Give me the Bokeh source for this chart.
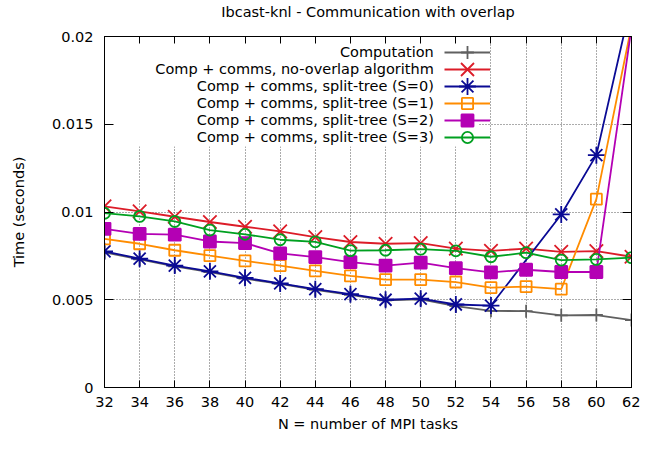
from bokeh.plotting import figure
from bokeh.models import (Range1d, FixedTicker, LinearAxis, Legend, LegendItem, Label,
                          BoxAnnotation, CustomJSTickFormatter)
from bokeh.embed import file_html
from bokeh.resources import INLINE

# ---------------- data ----------------
N = [32, 34, 36, 38, 40, 42, 44, 46, 48, 50, 52, 54, 56, 58, 60, 62]

computation = [0.00770, 0.00730, 0.00690, 0.00657, 0.00620, 0.00590, 0.00557, 0.00528,
               0.00496, 0.00502, 0.00464, 0.00437, 0.00435, 0.00411, 0.00413, 0.00384]
no_overlap = [0.01032, 0.01004, 0.00973, 0.00943, 0.00916, 0.00890, 0.00857, 0.00829,
              0.00819, 0.00823, 0.00791, 0.00779, 0.00791, 0.00773, 0.00777, 0.00745]
split_s0 = [0.00776, 0.00734, 0.00695, 0.00662, 0.00625, 0.00593, 0.00560, 0.00532,
            0.00500, 0.00506, 0.00473, 0.00467, None, 0.00986, 0.01324, 0.02200]
split_s1 = [0.00847, 0.00819, 0.00782, 0.00751, 0.00721, 0.00695, 0.00665, 0.00636,
            0.00615, 0.00615, 0.00601, 0.00569, 0.00575, 0.00560, 0.01073, 0.02060]
split_s2 = [0.00904, 0.00875, 0.00871, 0.00832, 0.00823, 0.00764, 0.00743, 0.00714,
            0.00695, 0.00712, 0.00680, 0.00656, 0.00671, 0.00658, 0.00658, 0.02050]
split_s3 = [0.00993, 0.00975, 0.00946, 0.00897, 0.00873, 0.00842, 0.00830, 0.00780,
            0.00782, 0.00788, 0.00779, 0.00745, 0.00768, 0.00726, 0.00730, 0.00740]

series_names = [
    "Computation",
    "Comp + comms, no-overlap algorithm",
    "Comp + comms, split-tree (S=0)",
    "Comp + comms, split-tree (S=1)",
    "Comp + comms, split-tree (S=2)",
    "Comp + comms, split-tree (S=3)",
]
series_values = [computation, no_overlap, split_s0, split_s1, split_s2, split_s3]

x_ticks = list(range(32, 63, 2))
y_ticks = [0, 0.005, 0.01, 0.015, 0.02]
y_tick_labels = ["0", "0.005", "0.01", "0.015", "0.02"]

title_text = "Ibcast-knl - Communication with overlap"
x_label = "N = number of MPI tasks"
y_label = "Time (seconds)"

# ---------------- styles ----------------
FONT = "DejaVu Sans"
FS = "14.5px"
styles = [
    dict(color="#606060", marker="cross", size=13, filled=False),
    dict(color="#dc1c28", marker="x", size=19, filled=False),
    dict(color="#0a0a94", marker="asterisk", size=17, filled=False),
    dict(color="#ff8c00", marker="square", size=11, filled=False),
    dict(color="#b400b4", marker="square", size=12, filled=True),
    dict(color="#00a020", marker="circle", size=11, filled=False),
]

W, H = 640, 434
BL, BR, BT, BB = 104, 9, 36, 45
FRAME_W = W - BL - BR
FRAME_H = H - BT - BB

p = figure(width=W, height=H, output_backend="svg", toolbar_location=None,
           x_range=Range1d(32, 62), y_range=Range1d(0, 0.02),
           min_border_left=BL, min_border_right=BR, min_border_top=BT, min_border_bottom=BB)
p.background_fill_color = "white"
p.border_fill_color = "white"
p.outline_line_color = "black"
p.outline_line_width = 1
p.title.visible = False

# axes
for ax in [p.xaxis[0], p.yaxis[0]]:
    ax.major_tick_out = 0
    ax.minor_tick_line_color = None
    ax.axis_line_color = "black"
    ax.major_tick_line_color = "black"
    ax.major_label_text_font = FONT
    ax.major_label_text_font_size = FS
    ax.major_label_text_color = "black"
    ax.axis_label_text_font = FONT
    ax.axis_label_text_font_size = FS
    ax.axis_label_text_font_style = "normal"
    ax.axis_label_text_color = "black"

p.xaxis[0].ticker = FixedTicker(ticks=x_ticks, minor_ticks=[])
p.xaxis[0].major_tick_in = 7
p.xaxis[0].major_label_standoff = 9
p.xaxis[0].axis_label = x_label
p.xaxis[0].axis_label_standoff = 6

p.yaxis[0].ticker = FixedTicker(ticks=y_ticks, minor_ticks=[])
p.yaxis[0].major_label_overrides = dict(zip(y_ticks, y_tick_labels))
p.yaxis[0].major_tick_in = 9
p.yaxis[0].major_label_standoff = 11
p.yaxis[0].axis_label = y_label
p.yaxis[0].axis_label_standoff = 22

# top axis carries the chart title (centred over the frame, like gnuplot)
top_axis = LinearAxis(ticker=FixedTicker(ticks=x_ticks, minor_ticks=[]),
                      formatter=CustomJSTickFormatter(code="return ''"),
                      major_tick_in=7, major_tick_out=0, minor_tick_line_color=None,
                      major_label_standoff=0, major_label_text_font_size="1px",
                      axis_line_color="black",
                      axis_label=title_text, axis_label_standoff=17,
                      axis_label_text_font=FONT, axis_label_text_font_size=FS,
                      axis_label_text_font_style="normal", axis_label_text_color="black")
right_axis = LinearAxis(ticker=FixedTicker(ticks=y_ticks, minor_ticks=[]),
                        formatter=CustomJSTickFormatter(code="return ''"),
                        major_tick_in=9, major_tick_out=0, minor_tick_line_color=None,
                        major_label_standoff=0, major_label_text_font_size="1px",
                        axis_line_color="black")
p.add_layout(top_axis, "above")
p.add_layout(right_axis, "right")

# grid
p.xgrid.ticker = FixedTicker(ticks=x_ticks, minor_ticks=[])
p.ygrid.ticker = FixedTicker(ticks=y_ticks, minor_ticks=[])
p.grid.grid_line_color = "black"
p.grid.grid_line_alpha = 0.65
p.grid.grid_line_width = 1
p.grid.grid_line_dash = "1 2"

# blank the grid behind the key
key_box = BoxAnnotation(left=0.5, right=374, bottom=FRAME_H - 112, top=FRAME_H - 0.5,
                        left_units="screen", right_units="screen",
                        bottom_units="screen", top_units="screen",
                        fill_color="white", fill_alpha=1.0, line_alpha=0,
                        level="underlay")
p.add_layout(key_box)

# series + key (sample on the right of right-aligned text, gnuplot style)
ROW = 17
KEY_TOP = FRAME_H - 9.2
for i, (name, vals, st) in enumerate(zip(series_names, series_values, styles)):
    xs = [n for n, v in zip(N, vals) if v is not None]
    ys = [v for v in vals if v is not None]
    lr = p.line(xs, ys, line_color=st["color"], line_width=1.8)
    sr = p.scatter(xs, ys, marker=st["marker"], size=st["size"], line_color=st["color"],
                   fill_color=st["color"] if st["filled"] else None, line_width=1.8)
    yc = KEY_TOP - ROW / 2 - ROW * i
    gh = int(round(st["size"] / 0.4))
    lg = Legend(items=[LegendItem(label="", renderers=[lr, sr])],
                location=(339.5, yc - gh / 2),
                glyph_width=46, glyph_height=gh, label_height=0, label_width=0,
                label_standoff=0, label_text_font_size="1px", spacing=0, padding=0, margin=0,
                background_fill_alpha=0, border_line_alpha=0)
    p.add_layout(lg)
    p.add_layout(Label(x=329.3, y=yc, x_units="screen", y_units="screen",
                       text=name, text_align="right", text_baseline="middle",
                       text_font=FONT, text_font_size=FS, text_color="black"))

open("out.html", "w").write(file_html(p, INLINE))
